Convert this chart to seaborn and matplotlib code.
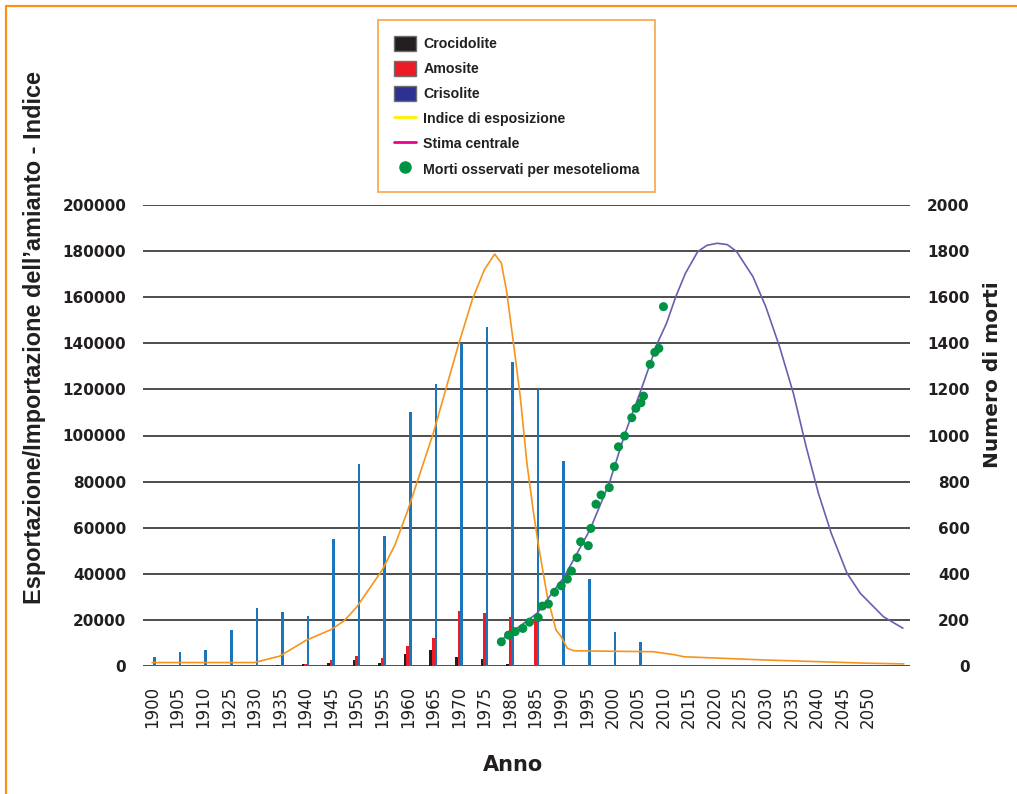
import numpy as np
import pandas as pd
import matplotlib
matplotlib.use("Agg")
import matplotlib.pyplot as plt
import seaborn as sns
from matplotlib.patches import Patch
from matplotlib.lines import Line2D
from matplotlib import font_manager

# ------------------------------------------------------------
# Dati
# ------------------------------------------------------------
anni = [1900, 1905, 1910, 1925, 1930, 1935, 1940, 1945, 1950, 1955,
        1960, 1965, 1970, 1975, 1980, 1985, 1990, 1995, 2000, 2005,
        2010, 2015, 2020, 2025, 2030, 2035, 2040, 2045, 2050]

# tonnellate per anno (asse sinistro)
crocidolite = [0, 0, 0, 0, 0, 400, 700, 1400, 2600, 1300,
               5200, 6900, 3900, 3000, 900, 0, 0, 0, 0, 0,
               0, 0, 0, 0, 0, 0, 0, 0, 0]
amosite = [0, 0, 0, 0, 0, 0, 1000, 2600, 4300, 3500,
           8700, 12100, 24000, 22800, 21400, 20800, 0, 0, 0, 0,
           0, 0, 0, 0, 0, 0, 0, 0, 0]
crisolite = [4000, 6000, 7000, 15500, 25000, 23500, 21700, 55000, 87500, 56500,
             110000, 122500, 140000, 147000, 132000, 120000, 89000, 37700, 14800, 10400,
             0, 0, 0, 0, 0, 0, 0, 0, 0]

# indice di esposizione (asse sinistro)
indice_anni = [1900, 1910, 1925, 1930, 1935, 1940, 1945, 1947.5, 1950, 1955,
               1957.5, 1960, 1965, 1970, 1972.6, 1975, 1977, 1978.3, 1979.3, 1980.6,
               1982, 1983.3, 1984.6, 1985.6, 1987.3, 1989, 1990, 1991.2, 1992.5, 2008,
               2012.4, 2014, 2030, 2050, 2057]
indice_val = [1500, 1500, 1500, 1500, 4300, 11000, 15800, 19500, 25500, 41600,
              52500, 67500, 101000, 140000, 158800, 172000, 178700, 174800, 163000, 141400,
              116800, 88000, 66300, 51800, 30000, 15600, 12700, 7700, 6600, 6200,
              4800, 4000, 2600, 1200, 900]

# stima centrale dei decessi (asse destro)
stima_anni = [1978.3, 1985.3, 1990.6, 1995.6, 1999.4, 2002.5, 2005.6, 2008.8, 2010.6, 2012.4,
              2014.3, 2016.7, 2018.5, 2020.5, 2022.5, 2024.3, 2027.5, 2030, 2032.7, 2035.4,
              2037.9, 2040.3, 2042.8, 2045.9, 2048.5, 2053, 2056.8]
stima_val = [113, 229, 387, 590, 793, 1010, 1197, 1400, 1487, 1602,
             1704, 1798, 1825, 1834, 1828, 1798, 1689, 1559, 1385, 1183,
             951, 749, 576, 402, 315, 214, 164]

# morti osservati per mesotelioma (asse destro)
morti_anni = [1978.3, 1979.7, 1981.0, 1982.5, 1983.8, 1985.5, 1986.3, 1987.5, 1988.7, 1990.0,
              1991.2, 1992.0, 1993.1, 1993.8, 1995.3, 1995.8, 1996.8, 1997.8, 1999.4, 2000.4,
              2001.2, 2002.4, 2003.8, 2004.6, 2005.6, 2006.1, 2007.4, 2008.3, 2009.1, 2010.0]
morti_val = [105, 134, 149, 163, 190, 210, 260, 269, 320, 348,
             377, 412, 470, 539, 522, 597, 702, 742, 774, 865,
             951, 998, 1077, 1118, 1142, 1171, 1309, 1361, 1378, 1559]

# ------------------------------------------------------------
# Stile
# ------------------------------------------------------------
sns.set_theme(style="white")
nomi_font = {f.name for f in font_manager.fontManager.ttflist}
stretto = "Liberation Sans Narrow" if "Liberation Sans Narrow" in nomi_font else "Liberation Sans"
plt.rcParams["font.family"] = ["DejaVu Sans"]

TESTO = "#231f20"
GRIGLIA = "#3f3f3f"
ARANCIO = "#f7941d"

idx_anni = np.arange(len(anni))


def posizione(a):
    # anno -> posizione sull'asse a categorie (le etichette non sono equidistanti in anni)
    a = np.asarray(a, dtype=float)
    p = np.interp(a, anni, idx_anni)
    oltre = a > anni[-1]
    p[oltre] = idx_anni[-1] + (a[oltre] - anni[-1]) / 5
    return p


n = len(anni)
barre = pd.DataFrame({
    "pos": np.tile(idx_anni, 3),
    "valore": crocidolite + amosite + crisolite,
    "tipo": ["Crocidolite"] * n + ["Amosite"] * n + ["Crisolite"] * n,
})

fig = plt.figure(figsize=(10.17, 7.94), dpi=100)
ax = fig.add_axes([143 / 1017, 1 - 666 / 794, (910 - 143) / 1017, (666 - 205) / 794])

sns.barplot(data=barre, x="pos", y="valore", hue="tipo",
            hue_order=["Crocidolite", "Amosite", "Crisolite"],
            palette=["#231f20", "#ed1c24", "#1b75bb"],
            native_scale=True, width=0.3, errorbar=None, saturation=1,
            linewidth=0, legend=False, ax=ax)

sns.lineplot(x=posizione(indice_anni), y=indice_val, color=ARANCIO, lw=1.2,
             estimator=None, sort=False, ax=ax)

ax.set_xlim(-0.352, 29.64)
ax.set_ylim(0, 200000)
ax.set_axisbelow(True)
ax.yaxis.grid(True, color=GRIGLIA, lw=1.3)
ax.xaxis.grid(False)
for s in ax.spines.values():
    s.set_visible(False)

ax.set_yticks(range(0, 200001, 20000))
ax.set_yticklabels([str(v) for v in range(0, 200001, 20000)],
                   fontsize=11, fontweight="bold", color=TESTO)
ax.set_xticks(idx_anni)
ax.set_xticklabels([str(a) for a in anni], rotation=90, fontsize=12, color=TESTO)
ax.tick_params(axis="y", length=0, pad=12)
ax.tick_params(axis="x", length=0, pad=14)
ax.set_xlabel("")
ax.set_ylabel("")

# asse destro: numero di morti
ax2 = ax.twinx()
sns.lineplot(x=posizione(stima_anni), y=stima_val, color="#6561ae", lw=1.2,
             estimator=None, sort=False, ax=ax2)
sns.scatterplot(x=posizione(morti_anni), y=morti_val, color="#009245", s=42,
                edgecolor="none", zorder=5, ax=ax2)
ax2.set_ylim(0, 2000)
ax2.set_xlim(-0.352, 29.64)
for s in ax2.spines.values():
    s.set_visible(False)
ax2.set_yticks(range(0, 2001, 200))
ax2.set_yticklabels([str(v) for v in range(0, 2001, 200)],
                    fontsize=11, fontweight="bold", color=TESTO, ha="right")
ax2.tick_params(axis="y", length=0, pad=43)
ax2.set_ylabel("")

# titoli degli assi
fig.text(513 / 1017, 1 - 765 / 794, "Anno", ha="center", va="center",
         fontsize=15, fontweight="bold", color=TESTO)
fig.text(992 / 1017, 1 - 375 / 794, "Numero di morti", ha="center", va="center",
         rotation=90, fontsize=14.5, fontweight="bold", color=TESTO)
lab_sx = fig.text(35 / 1017, 1 - 337 / 794, "Esportazione/Importazione dell\u2019amianto - Indice",
                  ha="center", va="center", rotation=90, fontsize=15, fontweight="bold",
                  color=TESTO, family=[stretto, "DejaVu Sans"])
# adatta la lunghezza del titolo sinistro a quella del riferimento
fig.canvas.draw()
h = lab_sx.get_window_extent().height
lab_sx.set_fontsize(15 * 535 / h)

# legenda
maniglie = [
    Patch(facecolor="#231f20", edgecolor="#6d6e71", label="Crocidolite"),
    Patch(facecolor="#ed1c24", edgecolor="#6d6e71", label="Amosite"),
    Patch(facecolor="#2e3192", edgecolor="#6d6e71", label="Crisolite"),
    Line2D([], [], color="#fff200", lw=2, label="Indice di esposizione"),
    Line2D([], [], color="#ec008c", lw=2, label="Stima centrale"),
    Line2D([], [], color="#009245", marker="o", ls="", markersize=8,
           label="Morti osservati per mesotelioma"),
]
leg = fig.legend(handles=maniglie, loc="upper left",
                 bbox_to_anchor=(378 / 1017, 1 - 20 / 794), borderaxespad=0,
                 frameon=True, fancybox=False, framealpha=1,
                 edgecolor="#f9ab55", handlelength=1.6, handleheight=1.3,
                 labelspacing=0.68, borderpad=1.1, handletextpad=0.5,
                 prop={"family": [stretto, "DejaVu Sans"], "weight": "bold", "size": 10.2})
leg.get_frame().set_linewidth(1.3)
for t in leg.get_texts():
    t.set_color(TESTO)

# cornice arancione in alto e a sinistra
fig.add_artist(Line2D([0.006, 1.0], [1 - 6 / 794, 1 - 6 / 794], transform=fig.transFigure,
                      color=ARANCIO, lw=1.6))
fig.add_artist(Line2D([6 / 1017, 6 / 1017], [0.0, 1 - 6 / 794], transform=fig.transFigure,
                      color=ARANCIO, lw=1.6))

fig.savefig("out.png", dpi=100)
